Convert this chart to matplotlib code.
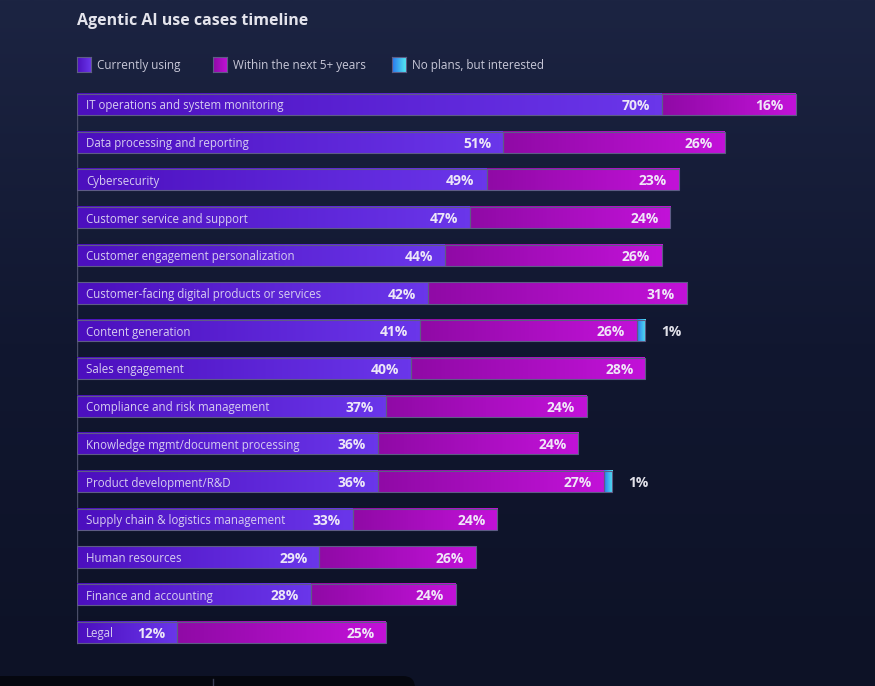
import matplotlib.pyplot as plt
import numpy as np
from matplotlib.colors import LinearSegmentedColormap
from matplotlib.patches import Rectangle, FancyBboxPatch

plt.rcParams['font.family'] = ['Open Sans', 'DejaVu Sans']

categories = [
    'IT operations and system monitoring',
    'Data processing and reporting',
    'Cybersecurity',
    'Customer service and support',
    'Customer engagement personalization',
    'Customer-facing digital products or services',
    'Content generation',
    'Sales engagement',
    'Compliance and risk management',
    'Knowledge mgmt/document processing',
    'Product development/R&D',
    'Supply chain & logistics management',
    'Human resources',
    'Finance and accounting',
    'Legal',
]
current = [70, 51, 49, 47, 44, 42, 41, 40, 37, 36, 36, 33, 29, 28, 12]
next_5 = [16, 26, 23, 24, 26, 31, 26, 28, 24, 24, 27, 24, 26, 24, 25]
# bar lengths of the "next 5+ years" segment as drawn in the source (a few are shorter than their label)
next_5_drawn = [16, 26.5, 23, 24, 26, 31, 26, 28, 24, 24, 27, 17.3, 18.7, 17.3, 25]
no_plans = [0, 0, 0, 0, 0, 0, 1, 0, 0, 0, 1, 0, 0, 0, 0]
legend_labels = ['Currently using', 'Within the next 5+ years', 'No plans, but interested']

W, H = 875, 686
purple = ('#4c0fbe', '#6a36ea')
magenta = ('#900aa6', '#c212d8')
cyan = ('#2a78ee', '#52e6f2')
edge = '#5e5c86'
bar_h = 0.56

fig = plt.figure(figsize=(W / 100, H / 100), dpi=100)

# background
bg = fig.add_axes([0, 0, 1, 1], zorder=-1)
bg_cmap = LinearSegmentedColormap.from_list('bg', ['#1c2442', '#111730', '#0d1226'])
bg.imshow(np.linspace(0, 1, 256).reshape(-1, 1), cmap=bg_cmap, extent=[0, W, H, 0],
          aspect='auto', interpolation='bilinear')
bg.add_patch(FancyBboxPatch((-20, 676), 435, 30, boxstyle='round,pad=0,rounding_size=12',
                            fc='#05070f', ec='none'))
bg.plot([213, 213], [679, 686], color='#3a3e55', lw=1)
bg.set_xlim(0, W)
bg.set_ylim(H, 0)
bg.axis('off')

# title + legend
fig.text(77 / W, 1 - 21 / H, 'Agentic AI use cases timeline', color='#e4e4ec',
         fontsize=11.5, fontweight='bold', va='center', ha='left')

leg_x = [77, 213, 392]
leg_cols = [purple, magenta, cyan]
for lx, lab, cols in zip(leg_x, legend_labels, leg_cols):
    lax = fig.add_axes([lx / W, 1 - 72 / H, 14 / W, 15 / H])
    lax.imshow(np.linspace(0, 1, 32).reshape(1, -1),
               cmap=LinearSegmentedColormap.from_list('', list(cols)),
               aspect='auto', interpolation='bilinear', extent=[0, 1, 0, 1])
    for s in lax.spines.values():
        s.set_color(edge)
        s.set_linewidth(0.8)
    lax.set_xticks([])
    lax.set_yticks([])
    fig.text((lx + 20) / W, 1 - 65 / H, lab, color='#c8c8d8', fontsize=8.5, va='center', ha='left')

# main chart
px_per = 585 / 70
ax = fig.add_axes([77 / W, 34.7 / H, (W - 77) / W, 565.7 / H])
ax.patch.set_alpha(0)


def seg(y, left, width, cols):
    cmap = LinearSegmentedColormap.from_list('', list(cols))
    ax.imshow(np.linspace(0, 1, 64).reshape(1, -1), cmap=cmap,
              extent=[left, left + width, y + bar_h / 2, y - bar_h / 2],
              aspect='auto', interpolation='bilinear', zorder=2)
    ax.add_patch(Rectangle((left, y - bar_h / 2), width, bar_h, fill=False,
                           ec=edge, lw=0.8, zorder=3))


pad = 12 / px_per
for i, cat in enumerate(categories):
    c, n, p = current[i], next_5_drawn[i], no_plans[i]
    seg(i, 0, c, purple)
    seg(i, c, n, magenta)
    ax.text(9 / px_per, i, cat, color='#d6cdf0', fontsize=8.3, va='center_baseline',
            ha='left', zorder=4)
    ax.text(c - pad, i, f'{current[i]}%', color='#ece6f8', fontsize=10, fontweight='bold',
            va='center_baseline', ha='right', zorder=4)
    ax.text(c + n - pad, i, f'{next_5[i]}%', color='#f0e6f8', fontsize=10, fontweight='bold',
            va='center_baseline', ha='right', zorder=4)
    if p:
        seg(i, c + n, p, cyan)
        ax.text(c + n + p + 16 / px_per, i, f'{p}%', color='#e0e0e8', fontsize=10,
                fontweight='bold', va='center_baseline', ha='left', zorder=4)

ax.plot([0, 0], [-bar_h / 2, len(categories) - 1 + bar_h / 2], color='#4a4e68', lw=1, zorder=1)
ax.set_xlim(0, (W - 77) / px_per)
ax.set_ylim(len(categories) - 0.5, -0.5)
ax.axis('off')

fig.savefig('out.png', dpi=100)
